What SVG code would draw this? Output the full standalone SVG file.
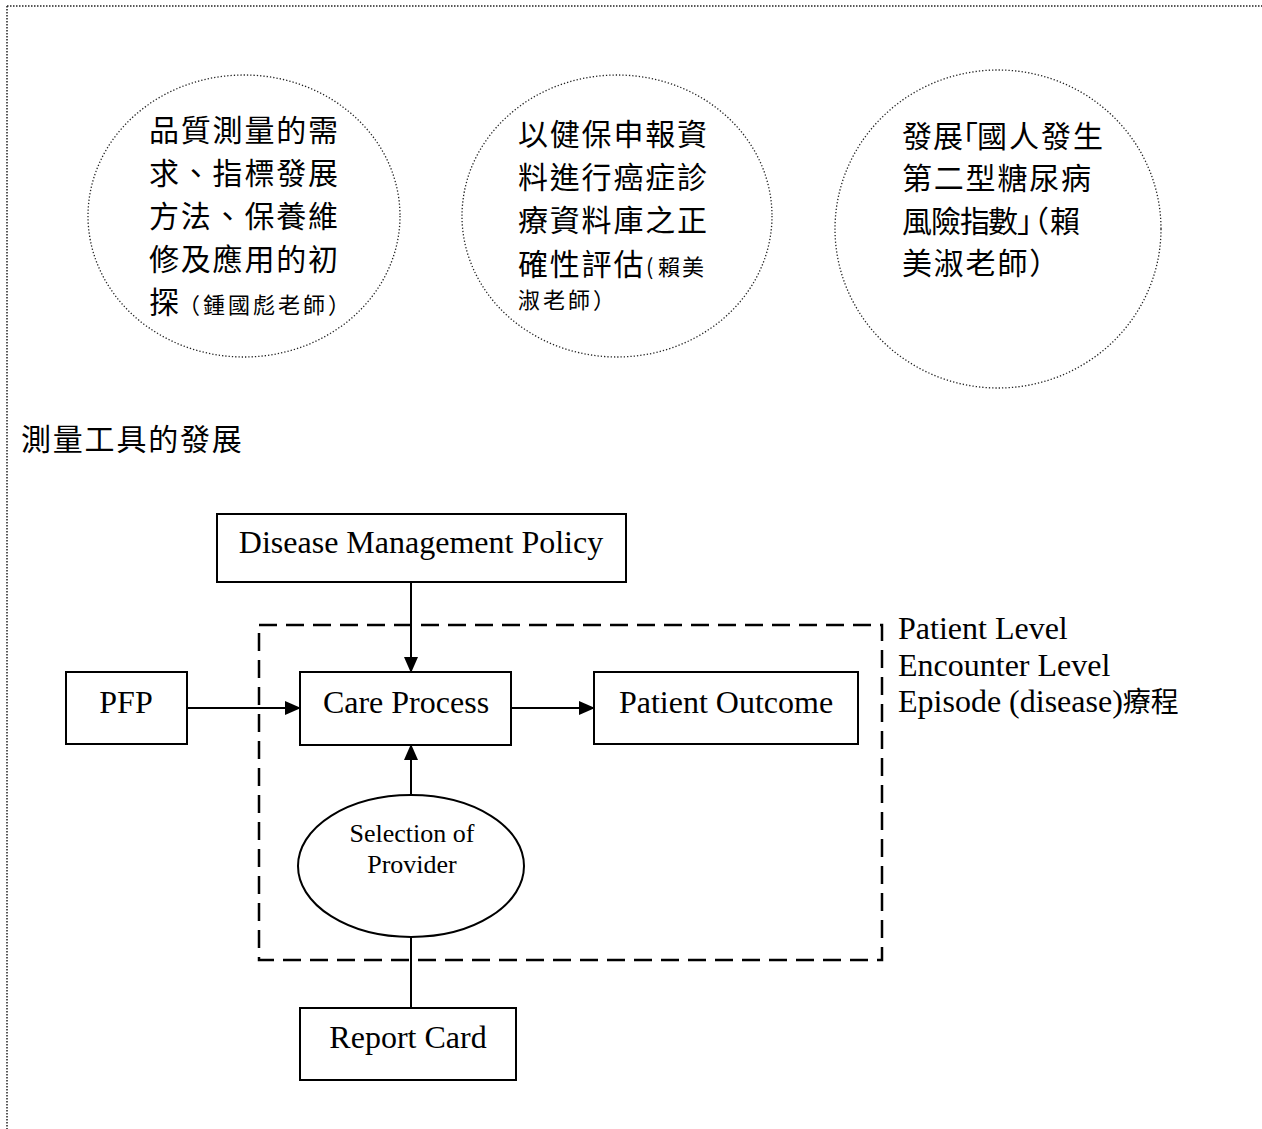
<svg xmlns="http://www.w3.org/2000/svg" width="1262" height="1129" viewBox="0 0 1262 1129">
<defs>
<marker id="arr" markerWidth="16" markerHeight="14" refX="15" refY="7" orient="auto" markerUnits="userSpaceOnUse">
<path d="M0,0 L16,7 L0,14 Z" fill="#000"/>
</marker>
<style>
.cjk{font-family:"Noto Sans CJK TC","Noto Sans CJK JP",sans-serif;fill:#000;}
.big{font-size:30px;letter-spacing:1.8px;}
.sm{font-size:22px;letter-spacing:3px;}
.en{font-family:"Liberation Serif","Noto Sans CJK TC",serif;fill:#000;}
.box{fill:#fff;stroke:#000;stroke-width:2;}
.bub{fill:none;stroke:#222;stroke-width:1.3;stroke-dasharray:1.3 2;}
.ln{stroke:#000;stroke-width:2;fill:none;}
</style>
</defs>
<rect width="1262" height="1129" fill="#fff"/>
<g id="frame">
<line x1="7" y1="6" x2="1262" y2="6" stroke="#222" stroke-width="1.5" stroke-dasharray="1.5 1.5"/>
<line x1="7" y1="6" x2="7" y2="1129" stroke="#222" stroke-width="1.5" stroke-dasharray="1.5 1.5"/>
</g>
<g id="bubble1">
<ellipse class="bub" cx="244" cy="216" rx="156" ry="141"/>
<text class="cjk big" x="149" y="141">品質測量的需</text>
<text class="cjk big" x="149" y="184">求、指標發展</text>
<text class="cjk big" x="149" y="227">方法、保養維</text>
<text class="cjk big" x="149" y="270">修及應用的初</text>
<text class="cjk big" x="149" y="313">探<tspan class="sm" x="178">（鍾國彪老師）</tspan></text>
</g>
<g id="bubble2">
<ellipse class="bub" cx="617" cy="216" rx="155" ry="141"/>
<text class="cjk big" x="518" y="145">以健保申報資</text>
<text class="cjk big" x="518" y="188">料進行癌症診</text>
<text class="cjk big" x="518" y="231">療資料庫之正</text>
<text class="cjk big" x="518" y="275">確性評估<tspan class="sm" x="646 658 682" style="letter-spacing:0">(賴美</tspan></text>
<text class="cjk sm" x="518" y="308">淑老師）</text>
</g>
<g id="bubble3">
<ellipse class="bub" cx="998" cy="229" rx="163" ry="159"/>
<text class="cjk big" x="902 933 948 977 1009 1041 1073" y="147" style="letter-spacing:0">發展「國人發生</text>
<text class="cjk big" x="902" y="189">第二型糖尿病</text>
<text class="cjk big" x="902 931 960 988 1017 1019 1050" y="232" style="letter-spacing:0">風險指數」（賴</text>
<text class="cjk big" x="902" y="274">美淑老師）</text>
</g>
<g id="heading">
<text class="cjk big" x="21" y="450">測量工具的發展</text>
</g>
<g id="scope">
<rect x="259" y="625" width="623" height="335" fill="none" stroke="#000" stroke-width="2.5" stroke-dasharray="18 9"/>
<text class="en" x="898" y="639" font-size="32">Patient Level</text>
<text class="en" x="898" y="676" font-size="32">Encounter Level</text>
<text class="en" x="898" y="712" font-size="32">Episode (disease)<tspan class="cjk" font-size="28">療程</tspan></text>
</g>
<g id="connectors">
<line class="ln" x1="411" y1="582" x2="411" y2="672" marker-end="url(#arr)"/>
<line class="ln" x1="187" y1="708" x2="300" y2="708" marker-end="url(#arr)"/>
<line class="ln" x1="511" y1="708" x2="594" y2="708" marker-end="url(#arr)"/>
<line class="ln" x1="411" y1="795" x2="411" y2="745" marker-end="url(#arr)"/>
<line class="ln" x1="411" y1="937" x2="411" y2="1008"/>
</g>
<g id="dmp">
<rect class="box" x="217" y="514" width="409" height="68"/>
<text class="en" x="421" y="553" font-size="32" text-anchor="middle">Disease Management Policy</text>
</g>
<g id="pfp">
<rect class="box" x="66" y="672" width="121" height="72"/>
<text class="en" x="126" y="713" font-size="32" text-anchor="middle">PFP</text>
</g>
<g id="care">
<rect class="box" x="300" y="672" width="211" height="73"/>
<text class="en" x="406" y="713" font-size="32" text-anchor="middle">Care Process</text>
</g>
<g id="outcome">
<rect class="box" x="594" y="672" width="264" height="72"/>
<text class="en" x="726" y="713" font-size="32" text-anchor="middle">Patient Outcome</text>
</g>
<g id="selection">
<ellipse cx="411" cy="866" rx="113" ry="71" fill="#fff" stroke="#000" stroke-width="2"/>
<text class="en" x="412" y="842" font-size="26" text-anchor="middle">Selection of</text>
<text class="en" x="412" y="873" font-size="26" text-anchor="middle">Provider</text>
</g>
<g id="report">
<rect class="box" x="300" y="1008" width="216" height="72"/>
<text class="en" x="408" y="1048" font-size="32" text-anchor="middle">Report Card</text>
</g>
</svg>
